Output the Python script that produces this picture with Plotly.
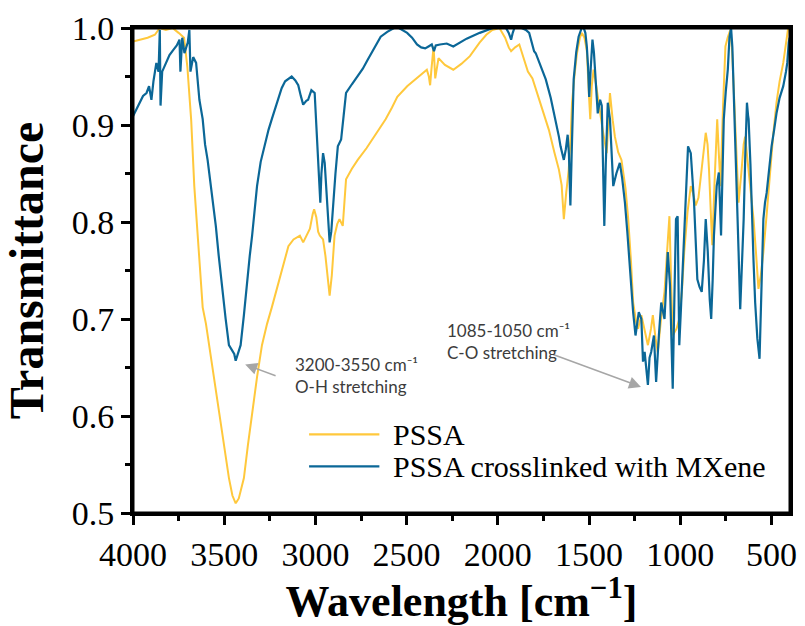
import plotly.graph_objects as go

# ---- data ----
pssa_wn = [4000, 3960, 3920, 3880, 3853, 3820, 3783, 3750, 3720, 3702, 3681, 3664, 3650, 3636, 3618, 3600,
           3582, 3555, 3528, 3500, 3474, 3455, 3437, 3420, 3392, 3370, 3347, 3320, 3293, 3265, 3239, 3210,
           3193, 3170, 3148, 3120, 3100, 3085, 3067, 3050, 3030, 3015, 3007, 2995, 2985, 2976, 2958, 2945,
           2935, 2922, 2910, 2895, 2880, 2868, 2850, 2840, 2832, 2800, 2768, 2720, 2678, 2640, 2615, 2580,
           2551, 2497, 2460, 2425, 2389, 2378, 2371, 2365, 2352, 2343, 2335, 2325, 2290, 2244, 2200, 2153,
           2100, 2063, 2030, 1991, 1960, 1940, 1927, 1905, 1882, 1860, 1835, 1810, 1780, 1750, 1720, 1690,
           1665, 1650, 1638, 1625, 1611, 1600, 1593, 1580, 1566, 1550, 1539, 1525, 1512, 1500, 1493, 1485,
           1475, 1460, 1448, 1425, 1403, 1395, 1385, 1370, 1358, 1340, 1322, 1300, 1285, 1270, 1258, 1240,
           1231, 1213, 1195, 1177, 1160, 1150, 1135, 1123, 1105, 1086, 1070, 1059, 1050, 1041, 1020, 1005,
           990, 978, 960, 942, 930, 915, 900, 888, 875, 860, 850, 842, 830, 824, 812, 797,
           788, 779, 765, 752, 740, 725, 715, 707, 695, 680, 665, 652, 644, 625, 610, 598,
           585, 571, 558, 544, 525, 508, 490, 472, 455, 435, 420, 408, 400]
pssa_t = [0.986, 0.988, 0.990, 0.993, 1.000, 0.998, 1.000, 0.995, 0.990, 0.960, 0.905, 0.837, 0.800, 0.760, 0.712, 0.695,
          0.673, 0.640, 0.605, 0.570, 0.536, 0.518, 0.510, 0.515, 0.536, 0.570, 0.605, 0.640, 0.673, 0.695, 0.712, 0.732,
          0.745, 0.760, 0.775, 0.782, 0.784, 0.786, 0.779, 0.785, 0.793, 0.808, 0.813, 0.805, 0.790, 0.786, 0.782, 0.765,
          0.745, 0.724, 0.745, 0.786, 0.798, 0.803, 0.796, 0.820, 0.844, 0.855, 0.864, 0.876, 0.888, 0.898, 0.906, 0.918,
          0.929, 0.940, 0.946, 0.952, 0.957, 0.950, 0.941, 0.955, 0.981, 0.948, 0.960, 0.969, 0.962, 0.957, 0.963, 0.971,
          0.985, 0.993, 0.998, 1.000, 0.990, 0.980, 0.976, 0.980, 0.983, 0.970, 0.955, 0.948, 0.930, 0.912, 0.895, 0.872,
          0.854, 0.838, 0.803, 0.830, 0.854, 0.890, 0.923, 0.950, 0.974, 0.990, 0.995, 0.990, 0.977, 0.930, 0.906, 0.940,
          0.957, 0.940, 0.923, 0.895, 0.871, 0.900, 0.933, 0.905, 0.888, 0.872, 0.864, 0.835, 0.803, 0.760, 0.717, 0.695,
          0.690, 0.704, 0.688, 0.673, 0.690, 0.704, 0.680, 0.666, 0.700, 0.728, 0.775, 0.806, 0.740, 0.683, 0.690, 0.700,
          0.730, 0.769, 0.810, 0.837, 0.830, 0.817, 0.825, 0.844, 0.870, 0.892, 0.880, 0.854, 0.800, 0.776, 0.840, 0.906,
          0.870, 0.837, 0.920, 0.981, 0.990, 0.998, 0.975, 0.940, 0.880, 0.820, 0.850, 0.880, 0.888, 0.854, 0.825, 0.803,
          0.770, 0.731, 0.745, 0.769, 0.810, 0.854, 0.890, 0.923, 0.945, 0.964, 0.985, 1.000, 1.000]

mx_wn = [4000, 3985, 3962, 3945, 3926, 3912, 3899, 3888, 3872, 3860, 3853, 3849, 3840, 3817, 3800, 3781,
         3760, 3745, 3740, 3730, 3718, 3700, 3691, 3685, 3670, 3654, 3645, 3636, 3618, 3605, 3591, 3573,
         3560, 3546, 3530, 3519, 3505, 3492, 3474, 3455, 3445, 3437, 3425, 3410, 3392, 3374, 3360, 3347,
         3320, 3300, 3275, 3257, 3239, 3220, 3202, 3185, 3166, 3130, 3110, 3094, 3080, 3067, 3050, 3040,
         3022, 3004, 2995, 2985, 2978, 2973, 2967, 2958, 2949, 2940, 2931, 2922, 2913, 2904, 2890, 2877,
         2859, 2845, 2832, 2800, 2768, 2740, 2714, 2680, 2642, 2606, 2569, 2542, 2497, 2470, 2443, 2420,
         2398, 2380, 2362, 2350, 2340, 2317, 2280, 2244, 2210, 2171, 2099, 2027, 1990, 1955, 1940, 1927,
         1918, 1909, 1870, 1846, 1828, 1801, 1792, 1765, 1737, 1710, 1683, 1665, 1656, 1638, 1627, 1617,
         1610, 1602, 1595, 1584, 1570, 1557, 1540, 1529, 1520, 1512, 1505, 1499, 1490, 1481, 1473, 1466,
         1452, 1445, 1439, 1430, 1422, 1416, 1408, 1397, 1385, 1375, 1367, 1350, 1331, 1318, 1303, 1290,
         1276, 1258, 1245, 1235, 1227, 1213, 1204, 1195, 1186, 1177, 1168, 1159, 1144, 1132, 1117, 1104,
         1086, 1068, 1056, 1041, 1032, 1023, 1014, 1005, 996, 987, 969, 957, 942, 924, 906, 894,
         882, 870, 860, 849, 838, 830, 822, 815, 800, 788, 776, 768, 761, 750, 739, 730,
         721, 714, 707, 689, 680, 671, 660, 652, 643, 634, 628, 625, 615, 607, 598, 589,
         577, 565, 555, 544, 535, 526, 512, 499, 485, 472, 455, 435, 420, 413, 405, 400]
mx_t = [0.909, 0.915, 0.923, 0.930, 0.933, 0.940, 0.926, 0.945, 0.964, 0.955, 0.998, 0.920, 0.955, 0.964, 0.972, 0.977,
        0.982, 0.988, 0.955, 0.990, 0.974, 0.985, 0.998, 0.955, 0.970, 0.964, 0.940, 0.926, 0.906, 0.880, 0.864, 0.837,
        0.815, 0.796, 0.765, 0.745, 0.722, 0.700, 0.673, 0.667, 0.664, 0.657, 0.665, 0.673, 0.704, 0.741, 0.765, 0.786,
        0.837, 0.862, 0.882, 0.895, 0.906, 0.918, 0.929, 0.938, 0.945, 0.950, 0.946, 0.941, 0.930, 0.921, 0.925, 0.926,
        0.936, 0.933, 0.900, 0.858, 0.830, 0.820, 0.850, 0.871, 0.861, 0.830, 0.803, 0.779, 0.790, 0.817, 0.850, 0.878,
        0.885, 0.910, 0.933, 0.942, 0.950, 0.958, 0.967, 0.978, 0.991, 0.996, 1.000, 1.000, 0.995, 0.990, 0.983, 0.980,
        0.979, 0.981, 0.983, 0.976, 0.982, 0.983, 0.984, 0.981, 0.985, 0.989, 0.995, 1.000, 1.000, 1.000, 0.995, 0.988,
        0.995, 1.000, 1.000, 0.998, 0.995, 0.976, 0.974, 0.960, 0.947, 0.928, 0.906, 0.888, 0.878, 0.864, 0.875, 0.890,
        0.870, 0.817, 0.870, 0.947, 0.975, 0.991, 1.000, 1.000, 0.995, 0.981, 0.960, 0.929, 0.960, 0.988, 0.975, 0.957,
        0.912, 0.920, 0.926, 0.920, 0.860, 0.796, 0.860, 0.923, 0.906, 0.870, 0.837, 0.850, 0.861, 0.845, 0.820, 0.790,
        0.752, 0.707, 0.683, 0.695, 0.707, 0.700, 0.656, 0.666, 0.650, 0.632, 0.660, 0.666, 0.683, 0.635, 0.683, 0.717,
        0.700, 0.769, 0.735, 0.628, 0.720, 0.803, 0.806, 0.673, 0.710, 0.752, 0.837, 0.878, 0.871, 0.820, 0.741, 0.733,
        0.728, 0.760, 0.803, 0.770, 0.720, 0.700, 0.740, 0.786, 0.837, 0.851, 0.786, 0.850, 0.906, 0.935, 0.957, 0.990,
        1.000, 0.980, 0.940, 0.837, 0.770, 0.710, 0.760, 0.803, 0.870, 0.923, 0.910, 0.906, 0.860, 0.803, 0.760, 0.717,
        0.680, 0.659, 0.730, 0.803, 0.820, 0.830, 0.855, 0.878, 0.895, 0.912, 0.928, 0.940, 0.955, 0.964, 0.985, 0.990]

series_names = ["PSSA", "PSSA crosslinked with MXene"]
series_colors = ["#FFC83C", "#0B6797"]

x_ticks = [4000, 3500, 3000, 2500, 2000, 1500, 1000, 500]
x_minor = [3750, 3250, 2750, 2250, 1750, 1250, 750]
y_ticks = [0.5, 0.6, 0.7, 0.8, 0.9, 1.0]
y_minor = [0.55, 0.65, 0.75, 0.85, 0.95]

SERIF = "Liberation Serif"
SANS = "Lato"

fig = go.Figure()
fig.add_trace(go.Scatter(x=pssa_wn, y=pssa_t, mode="lines", name=series_names[0], showlegend=False,
                         line=dict(color=series_colors[0], width=2)))
fig.add_trace(go.Scatter(x=mx_wn, y=mx_t, mode="lines", name=series_names[1], showlegend=False,
                         line=dict(color=series_colors[1], width=2.2)))

axis_common = dict(showline=True, linecolor="black", linewidth=3, mirror=True,
                   ticks="outside", tickcolor="black", tickwidth=2.5, ticklen=9,
                   showgrid=False, zeroline=False, ticklabeloverflow="allow",
                   tickfont=dict(family=SERIF, size=34, color="black"))

fig.update_xaxes(range=[4000, 398], autorange=False, tickmode="array", tickvals=x_ticks,
                 ticktext=[str(v) for v in x_ticks],
                 minor=dict(tickmode="array", tickvals=x_minor, ticks="outside", ticklen=5,
                            tickwidth=2.5, tickcolor="black", showgrid=False),
                 title=dict(text="Wavelength [cm<sup>−1</sup>]", standoff=14,
                            font=dict(family=SERIF, size=44, color="black", weight="bold")),
                 **axis_common)
fig.update_yaxes(range=[0.5, 1.0], autorange=False, tickmode="array", tickvals=y_ticks,
                 ticktext=[f"{v:.1f}" for v in y_ticks],
                 minor=dict(tickmode="array", tickvals=y_minor, ticks="outside", ticklen=5,
                            tickwidth=2.5, tickcolor="black", showgrid=False),
                 title=dict(text="Transmittance", standoff=13,
                            font=dict(family=SERIF, size=48, color="black", weight="bold")),
                 **axis_common)

# full frame around the plot area (top and right edges as in the reference)
fig.add_shape(type="rect", xref="paper", yref="paper", x0=0, x1=1, y0=0, y1=1,
              line=dict(color="black", width=3), layer="above")

arrow_style = dict(showarrow=True, arrowhead=2, arrowsize=1.6, arrowwidth=1.5,
                   arrowcolor="#A6A6A6", axref="x", ayref="y", text="", standoff=0)
fig.add_annotation(x=3385, y=0.653, ax=3210, ay=0.641, **arrow_style)
fig.add_annotation(x=1215, y=0.630, ax=1705, ay=0.664, **arrow_style)

note_font = dict(family=SANS, size=17, color="#3C3C3C")
fig.add_annotation(x=3121, y=0.642, text="3200-3550 cm⁻¹<br>O-H stretching", showarrow=False,
                   xanchor="left", yanchor="middle", align="left", font=note_font)
fig.add_annotation(x=2291, y=0.677, text="1085-1050 cm⁻¹<br>C-O stretching", showarrow=False,
                   xanchor="left", yanchor="middle", align="left", font=note_font)

# legend drawn as line samples + labels (long line samples, tight row spacing as in the reference)
legend_rows_y = [0.162, 0.096]
for name, color, ly in zip(series_names, series_colors, legend_rows_y):
    fig.add_shape(type="line", xref="paper", yref="paper", x0=0.268, x1=0.375, y0=ly, y1=ly,
                  line=dict(color=color, width=2.2))
    fig.add_annotation(xref="paper", yref="paper", x=0.392, y=ly, text=name, showarrow=False,
                       xanchor="left", yanchor="middle",
                       font=dict(family=SERIF, size=30, color="black"))

fig.update_layout(
    width=805, height=626,
    margin=dict(l=133, r=8, t=28, b=111),
    paper_bgcolor="white", plot_bgcolor="white",
    showlegend=False,
)

fig.write_html("out.html", config={"displayModeBar": False},
               post_script="document.body.style.margin='0';")
